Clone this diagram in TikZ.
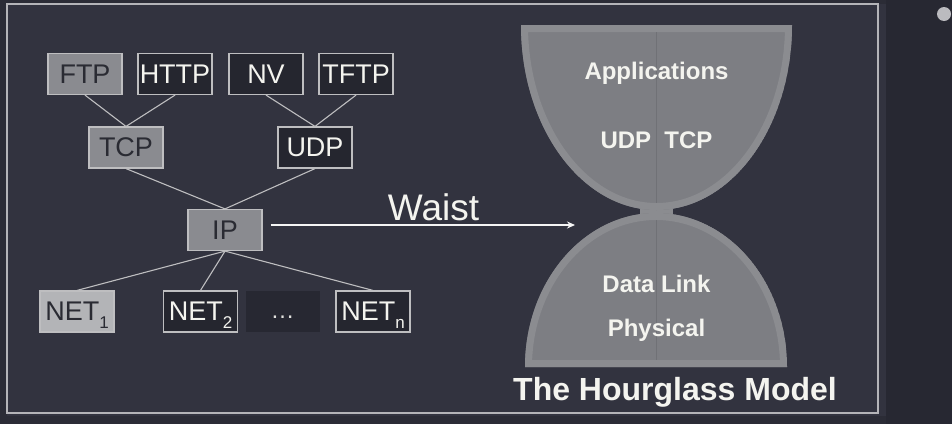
\documentclass[tikz,border=0pt]{standalone}
\usepackage{fontspec}
\setmainfont{Liberation Sans}
\usetikzlibrary{arrows.meta}
\definecolor{bgout}{HTML}{2B2C36}
\definecolor{bgin}{HTML}{32333F}
\definecolor{bgright}{HTML}{272832}
\definecolor{framecol}{HTML}{B4B4B8}
\definecolor{boxline}{HTML}{BEBEC0}
\definecolor{darkfill}{HTML}{25262F}
\definecolor{grayfill}{HTML}{8A8B90}
\definecolor{lightfill}{HTML}{B3B4B7}
\definecolor{darktext}{HTML}{2A2B33}
\definecolor{whitetext}{HTML}{F4F4EF}
\definecolor{glassfill}{HTML}{7D7E83}
\definecolor{glassband}{HTML}{8B8C90}
\definecolor{glassline}{HTML}{707176}
\definecolor{dotsfill}{HTML}{272832}
\tikzset{
  pbox/.style={draw=boxline, line width=1.2pt, minimum width=74pt, minimum height=41pt,
    inner sep=0pt, font=\fontsize{27}{27}\selectfont},
  darkbox/.style={pbox, fill=darkfill, text=whitetext},
  graybox/.style={pbox, fill=grayfill, text=darktext},
  lightbox/.style={pbox, fill=lightfill, text=darktext},
  link/.style={draw=boxline, line width=1.1pt},
  glasslabel/.style={text=whitetext, font=\bfseries\fontsize{24}{24}\selectfont, inner sep=0pt},
}
\newcommand{\subs}[1]{\raisebox{-0.28em}[0pt][0pt]{\fontsize{17}{17}\selectfont #1}}
\begin{document}
\begin{tikzpicture}[x=1pt,y=-1pt]
\useasboundingbox (0,0) rectangle (952,424);
% backgrounds
\fill[bgout] (0,0) rectangle (952,424);
\fill[bgright] (886,0) rectangle (952,424);
\fill[bgin] (7,4) rectangle (886,416);
\draw[framecol, line width=1.2pt] (7,4) rectangle (878,413);
\fill[framecol!90] (944,14) circle (7);

% protocol tree
\node[graybox] (ftp) at (85,74) {FTP};
\node[darkbox] (http) at (175,74) {HTTP};
\node[darkbox] (nv) at (266,74) {NV};
\node[darkbox] (tftp) at (356,74) {TFTP};
\node[graybox] (tcp) at (126,147.5) {TCP};
\node[darkbox] (udp) at (315,147.5) {UDP};
\node[graybox] (ip) at (225,230) {IP};
\node[lightbox] (net1) at (77,311.5) {NET\subs{1}};
\node[darkbox] (net2) at (200.5,311.5) {NET\subs{2}};
\node[pbox, draw=none, fill=dotsfill, text=whitetext!85!gray] (dots) at (282.5,311.5) {\fontsize{24}{24}\selectfont\raisebox{-0.3em}[0pt][0pt]{\dots}};
\node[darkbox] (netn) at (373,311.5) {NET\subs{n}};

\draw[link] (ftp.south) -- (tcp.north);
\draw[link] (http.south) -- (tcp.north);
\draw[link] (nv.south) -- (udp.north);
\draw[link] (tftp.south) -- (udp.north);
\draw[link] (tcp.south) -- (ip.north);
\draw[link] (udp.south) -- (ip.north);
\draw[link] (ip.south) -- (net1.north);
\draw[link] (ip.south) -- (net2.north);
\draw[link] (ip.south) -- (netn.north);

% hourglass
\def\topbowl{(521,25) -- (792,25) arc[start angle=0, end angle=180, x radius=135.5, y radius=185] -- cycle}
\def\botbowl{(525,367) arc[start angle=180, end angle=360, x radius=131, y radius=154] -- cycle}
\fill[glassband] (640,196) rectangle (673,222);
\begin{scope}
  \clip \topbowl;
  \fill[glassfill] \topbowl;
  \draw[glassband, line width=14pt] \topbowl;
\end{scope}
\begin{scope}
  \clip \botbowl;
  \fill[glassfill] \botbowl;
  \draw[glassband, line width=14pt] \botbowl;
\end{scope}
\draw[glassline, line width=0.8pt] (656.5,32) -- (656.5,203);
\draw[glassline, line width=0.8pt] (656.5,220) -- (656.5,360);

\node[glasslabel] (apps) at (656.5,73) {Applications};
\node[glasslabel] (tl) at (656.5,140) {UDP\ \ TCP};
\node[glasslabel] (dl) at (656.5,284) {Data Link};
\node[glasslabel] (ph) at (656.5,330) {Physical};
\node[text=whitetext, font=\bfseries\fontsize{32}{32}\selectfont, inner sep=0pt] (title) at (675,392) {The Hourglass Model};

% waist arrow
\coordinate (waist) at (575,225);
\draw[white!92!gray, line width=1.8pt, -{Stealth[length=8pt,width=7pt]}] (ip.east) ++(8,-5) coordinate (wstart) (wstart) -- (waist);
\node[text=whitetext, font=\fontsize{37}{37}\selectfont, inner sep=0pt, anchor=base] (wl) at (433.5,220) {Waist};
\end{tikzpicture}
\end{document}
